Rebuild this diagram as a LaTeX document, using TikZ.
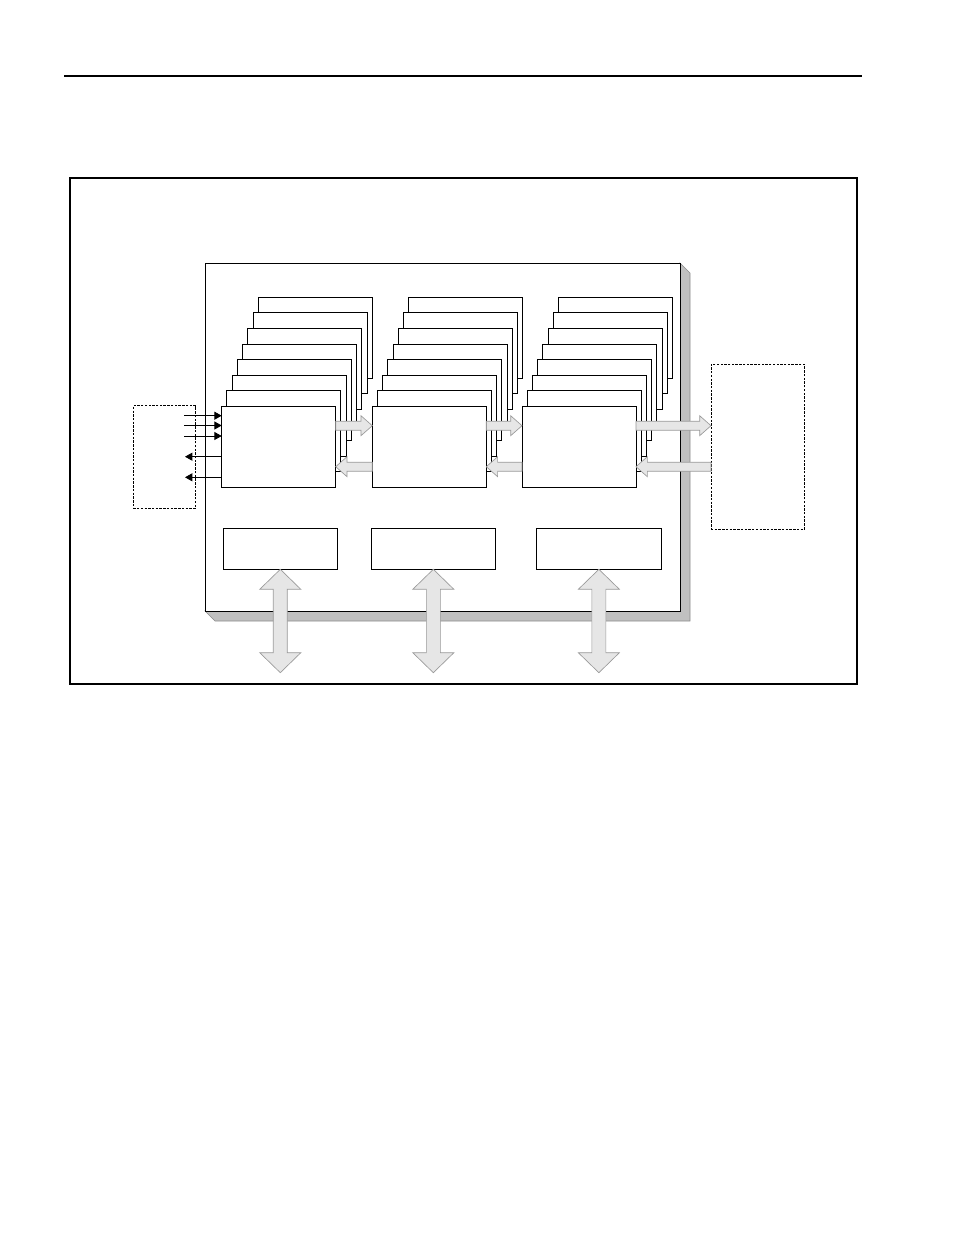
\documentclass[tikz,border=0pt]{standalone}
\usetikzlibrary{calc,arrows.meta}
\definecolor{shadowgray}{HTML}{C0C0C0}
\definecolor{shadowedge}{HTML}{8C8C8C}
\definecolor{arrowfill}{HTML}{E6E6E6}
\definecolor{arrowedge}{HTML}{9A9A9A}
\tikzset{
  card/.style={draw=black, fill=white, line width=0.75pt},
  cardnode/.style={card, inner sep=0pt, outer sep=0pt, minimum width=85.5pt, minimum height=60.75pt, anchor=south west},
  slot/.style={draw=black, fill=white, line width=0.75pt, inner sep=0pt, outer sep=0pt, minimum height=30.75pt, anchor=north west},
  dashbox/.style={draw=black, line width=0.6pt, dash pattern=on 1.8pt off 1pt, inner sep=0pt, outer sep=0pt, anchor=north west},
  barrow/.style={draw=arrowedge, fill=arrowfill, line width=0.5pt, line join=miter},
  sig/.style={draw=black, line width=0.7pt, -{Triangle[length=5.5pt,width=6pt]}},
}
\newcommand\blockH[2]{%
  \path[barrow] let \p1=(#1), \p2=(#2), \p3=($(#2)!8.5pt!(#1)$) in
   (\x1,\y1+3.4pt) -- (\x3,\y1+3.4pt) -- (\x3,\y1+7.5pt) -- (\x2,\y1)
   -- (\x3,\y1-7.5pt) -- (\x3,\y1-3.4pt) -- (\x1,\y1-3.4pt) -- cycle;}
\newcommand\blockV[2]{%
  \path[barrow] let \p1=(#1), \p2=(#2), \p3=($(#1)!15pt!(#2)$), \p4=($(#2)!15pt!(#1)$) in
   (\x1,\y1) -- (\x1+15.4pt,\y3) -- (\x1+5.25pt,\y3) -- (\x1+5.25pt,\y4)
   -- (\x1+15.4pt,\y4) -- (\x1,\y2) -- (\x1-15.4pt,\y4) -- (\x1-5.25pt,\y4)
   -- (\x1-5.25pt,\y3) -- (\x1-15.4pt,\y3) -- cycle;}
\newcommand\cardstack[1]{%
  \foreach \i in {7,6,...,1}
    \draw[card] ($(#1)+(\i*5.23,-\i*15.57)$) rectangle ++(114,-81);}
\begin{document}
\begin{tikzpicture}[x=0.75pt,y=-0.75pt]
\useasboundingbox (0,0) rectangle (954,1235);
% header rule
\coordinate (hl) at (64,76);
\coordinate (hr) at (862,76);
\draw[line width=1.1pt] (hl) -- (hr);
% outer frame
\node[draw=black, line width=1.5pt, inner sep=0pt, outer sep=0pt, minimum width=590.25pt, minimum height=379.5pt, anchor=north west] (frame) at (70,178) {};
% board with shadow
\coordinate (bnw) at (205,263);
\fill[shadowgray, draw=shadowedge, line width=0.4pt] (680,263) -- (690,273) -- (690,621) -- (215,621) -- (205,611) -- (680,611) -- cycle;
\node[draw=black, fill=white, line width=0.65pt, inner sep=0pt, outer sep=0pt, minimum width=356.25pt, minimum height=261pt, anchor=north west] (board) at (bnw) {};
% card stacks
\coordinate (s1) at (221.7,487.3);
\coordinate (s2) at (372.3,487.3);
\coordinate (s3) at (522.0,487.3);
\cardstack{s1}
\node[cardnode] (f1) at (s1) {};
\cardstack{s2}
\node[cardnode] (f2) at (s2) {};
\cardstack{s3}
\node[cardnode] (f3) at (s3) {};
% bottom slots
\node[slot, minimum width=85.5pt] (bA) at (223.3,528.3) {};
\node[slot, minimum width=93.5pt] (bB) at (371,528.3) {};
\node[slot, minimum width=93.25pt] (bC) at (536.7,528.3) {};
% dashed boxes
\node[dashbox, minimum width=46.5pt, minimum height=77pt] (lbox) at (133.3,405.7) {};
\node[dashbox, minimum width=70pt, minimum height=123.75pt] (rbox) at (711,364.3) {};
% signal lines
\coordinate (in1) at (184,415.7);
\coordinate (in2) at (184,425.5);
\coordinate (in3) at (184,436);
\coordinate (out1) at (185,456.7);
\coordinate (out2) at (185,477.3);
\draw[sig] (in1) -- (in1 -| f1.west);
\draw[sig] (in2) -- (in2 -| f1.west);
\draw[sig] (in3) -- (in3 -| f1.west);
\draw[sig] (out1 -| f1.west) -- (out1);
\draw[sig] (out2 -| f1.west) -- (out2);
% block arrows between stacks
\coordinate (fw) at (0,425.7);
\coordinate (bw) at (0,466.7);
\blockH{f1.east |- fw}{f2.west |- fw}
\blockH{f2.west |- bw}{f1.east |- bw}
\blockH{f2.east |- fw}{f3.west |- fw}
\blockH{f3.west |- bw}{f2.east |- bw}
\blockH{f3.east |- fw}{rbox.west |- fw}
\blockH{rbox.west |- bw}{f3.east |- bw}
% bus arrows
\coordinate (busA) at (bA.south |- 0,672.7);
\coordinate (busB) at (bB.south |- 0,672.7);
\coordinate (busC) at (bC.south |- 0,672.7);
\blockV{bA.south}{busA}
\blockV{bB.south}{busB}
\blockV{bC.south}{busC}
\end{tikzpicture}
\end{document}
